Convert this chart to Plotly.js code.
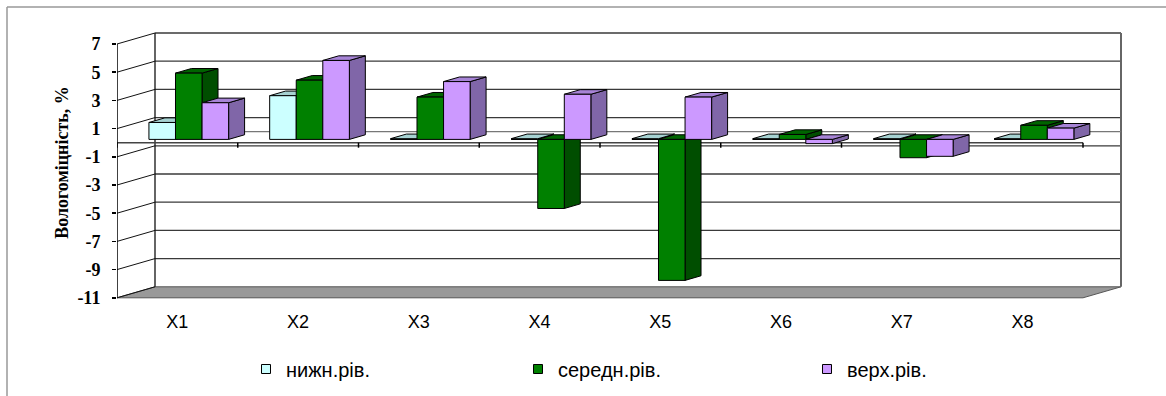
<!DOCTYPE html>
<html>
<head>
<meta charset="utf-8">
<script src="https://cdn.plot.ly/plotly-3.0.1.min.js"></script>
<style>
  html, body { margin: 0; padding: 0; background: #fff; }
  #chart { width: 1166px; height: 396px; }
</style>
</head>
<body>
<div id="chart"></div>
<script>
// ---- data ----
const categories = ['X1', 'X2', 'X3', 'X4', 'X5', 'X6', 'X7', 'X8'];
const seriesNames = ['нижн.рів.', 'середн.рів.', 'верх.рів.'];
const lowerLevel  = [1.2, 3.1, 0.05, 0.05, 0.05, 0.05, 0.05, 0.05];
const middleLevel = [4.7, 4.2, 3.0, -4.9, -10.0, 0.35, -1.3, 1.0];
const upperLevel  = [2.6, 5.6, 4.1, 3.2, 3.0, -0.3, -1.2, 0.8];
const yTickValues = [-11, -9, -7, -5, -3, -1, 1, 3, 5, 7];
const yTickText   = ['-11', '-9', '-7', '-5', '-3', '-1', '1', '3', '5', '7'];
const yTitle = 'Вологоміцність, %';

// ---- geometry of the pseudo-3D box (in pixels of the page) ----
const FIG_W = 1166, FIG_H = 396;
const M = { l: 117, r: 20, t: 20, b: 91 };
const PLOT_W = FIG_W - M.l - M.r;
const PLOT_BOTTOM = FIG_H - M.b;
const PX_PER_CAT = 120.75;      // width of one category on the front plane
const PX_PER_UNIT = 14.1;       // vertical pixels per 1 % on the value axis
const ZERO_PX = 142.7;          // page y of value 0 on the front plane
const DEPTH_PX = { x: 38, y: 11 };

// depth offset expressed in axis units
const DX = DEPTH_PX.x / PX_PER_CAT;
const DY = DEPTH_PX.y / PX_PER_UNIT;
const Y_MIN = yTickValues[0], Y_MAX = yTickValues[yTickValues.length - 1];
const NCAT = categories.length;

// bar placement inside a category (fractions of category width / depth)
const GAP = 0.17, BAR_W = 0.22;
const F1 = 0.30, F2 = 0.72;

const faceColors = {
  front: ['#CCFFFF', '#008000', '#CC99FF'],
  top:   ['#A6D2D2', '#006400', '#A784D6'],
  side:  ['#8AB0B0', '#004E00', '#8066A8']
};

// ---- bar faces, built from the values through the axis scales ----
function barFaces(values, s) {
  const f = { x: [], y: [] }, t = { x: [], y: [] }, sd = { x: [], y: [] };
  const b1 = F1 * DY, b2 = F2 * DY, ddx = (F2 - F1) * DX;
  values.forEach((v, i) => {
    const x0 = i + GAP + s * BAR_W + F1 * DX;
    const x1 = x0 + BAR_W;
    const hi = Math.max(v, 0), lo = Math.min(v, 0);
    f.x.push(x0, x1, x1, x0, x0, null);
    f.y.push(b1 + lo, b1 + lo, b1 + hi, b1 + hi, b1 + lo, null);
    t.x.push(x0, x1, x1 + ddx, x0 + ddx, x0, null);
    t.y.push(b1 + hi, b1 + hi, b2 + hi, b2 + hi, b1 + hi, null);
    sd.x.push(x1, x1 + ddx, x1 + ddx, x1, x1, null);
    sd.y.push(b1 + lo, b2 + lo, b2 + hi, b1 + hi, b1 + lo, null);
  });
  return { front: f, top: t, side: sd };
}

const allSeries = [lowerLevel, middleLevel, upperLevel];
const faces = allSeries.map((vals, s) => barFaces(vals, s));

function faceTrace(poly, color) {
  return {
    type: 'scatter', mode: 'lines', x: poly.x, y: poly.y,
    fill: 'toself', fillcolor: color,
    line: { color: '#000', width: 1 },
    hoverinfo: 'skip', showlegend: false
  };
}

const traces = [];
['side', 'top', 'front'].forEach(kind => {
  faces.forEach((fc, s) => traces.push(faceTrace(fc[kind], faceColors[kind][s])));
});

// legend entries (one legend per series, laid out in a row)
const legendIds = ['legend', 'legend2', 'legend3'];
seriesNames.forEach((name, s) => {
  traces.push({
    type: 'scatter', mode: 'markers', x: [null], y: [null], name: name,
    legend: legendIds[s],
    marker: { symbol: 'square', size: 9, color: faceColors.front[s], line: { color: '#000', width: 1 } },
    hoverinfo: 'skip'
  });
});

// ---- walls, floor and gridlines ----
const shapes = [];
function line(x0, y0, x1, y1, color, width, layer) {
  shapes.push({ type: 'line', xref: 'x', yref: 'y', x0, y0, x1, y1,
    line: { color, width }, layer: layer || 'below' });
}
function poly(pts, fill, lineColor, width) {
  const d = pts.map((p, k) => (k ? 'L' : 'M') + p[0] + ',' + p[1]).join(' ') + ' Z';
  shapes.push({ type: 'path', xref: 'x', yref: 'y', path: d, fillcolor: fill,
    line: { color: lineColor, width }, layer: 'below' });
}

// floor at the bottom of the value axis
poly([[0, Y_MIN], [NCAT, Y_MIN], [NCAT + DX, Y_MIN + DY], [DX, Y_MIN + DY]], '#999999', '#555555', 1);

// back-wall gridlines and side-wall diagonals
yTickValues.forEach(v => {
  if (v !== Y_MIN) line(DX, v + DY, NCAT + DX, v + DY, '#3a3a3a', 1.3);
  line(0, v, DX, v + DY, '#111', 1);
});
// back-wall edges
line(DX, Y_MIN + DY, DX, Y_MAX + DY, '#111', 1.3);
line(NCAT + DX, Y_MIN + DY, NCAT + DX, Y_MAX + DY, '#666', 2);
// zero plane: back edge, front edge and category ticks
line(DX, DY, NCAT + DX, DY, '#777', 1.3);
line(0, 0, NCAT, 0, '#444', 1.6);
const tickLen = 5 / PX_PER_UNIT;
for (let k = 0; k <= NCAT; k++) line(k, 0, k, -tickLen, '#000', 1.5);
// front value axis
line(0, Y_MIN, 0, Y_MAX, '#000', 1.5);

// chart-area border (left and top edges)
const pxToPaperX = px => (px - M.l) / PLOT_W;
const pxToPaperY = py => (PLOT_BOTTOM - py) / (PLOT_BOTTOM - M.t);
shapes.push({ type: 'line', xref: 'paper', yref: 'paper',
  x0: pxToPaperX(7), y0: pxToPaperY(7), x1: pxToPaperX(7), y1: pxToPaperY(FIG_H + 5),
  line: { color: '#999', width: 1.5 }, layer: 'above' });
shapes.push({ type: 'line', xref: 'paper', yref: 'paper',
  x0: pxToPaperX(7), y0: pxToPaperY(7), x1: pxToPaperX(FIG_W + 5), y1: pxToPaperY(7),
  line: { color: '#999', width: 1.5 }, layer: 'above' });

// ---- layout ----
const sansFont = 'Liberation Sans, Arial, sans-serif';
const serifFont = 'Liberation Serif, Times New Roman, serif';
const legendBase = {
  orientation: 'h', xref: 'container', yref: 'container',
  xanchor: 'left', yanchor: 'middle', y: (FIG_H - 369) / FIG_H,
  bgcolor: 'rgba(0,0,0,0)', borderwidth: 0,
  font: { family: sansFont, size: 20, color: '#000' },
  itemclick: false, itemdoubleclick: false
};
const legendLeftPx = [246, 518, 807];

const layout = {
  width: FIG_W, height: FIG_H,
  margin: { l: M.l, r: M.r, t: M.t, b: M.b, pad: 0 },
  paper_bgcolor: '#ffffff', plot_bgcolor: 'rgba(0,0,0,0)',
  showlegend: true,
  xaxis: {
    range: [0, PLOT_W / PX_PER_CAT],
    tickvals: categories.map((c, i) => i + 0.5), ticktext: categories,
    showgrid: false, zeroline: false, showline: false, ticks: '',
    ticklabelstandoff: 4,
    tickfont: { family: sansFont, size: 18, color: '#000' },
    fixedrange: true
  },
  yaxis: {
    range: [(ZERO_PX - PLOT_BOTTOM) / PX_PER_UNIT, (ZERO_PX - M.t) / PX_PER_UNIT],
    tickvals: yTickValues, ticktext: yTickText,
    ticks: 'outside', ticklen: 4, tickwidth: 1.5, tickcolor: '#000',
    ticklabelstandoff: 8,
    showgrid: false, zeroline: false, showline: false,
    tickfont: { family: serifFont, size: 18, weight: 700, color: '#000' },
    title: { text: yTitle, font: { family: serifFont, size: 18, weight: 700, color: '#000' }, standoff: 4 },
    fixedrange: true
  },
  legend:  Object.assign({}, legendBase, { x: legendLeftPx[0] / FIG_W }),
  legend2: Object.assign({}, legendBase, { x: legendLeftPx[1] / FIG_W }),
  legend3: Object.assign({}, legendBase, { x: legendLeftPx[2] / FIG_W }),
  shapes: shapes
};

Plotly.newPlot('chart', traces, layout, { staticPlot: true, displayModeBar: false });
</script>
</body>
</html>
